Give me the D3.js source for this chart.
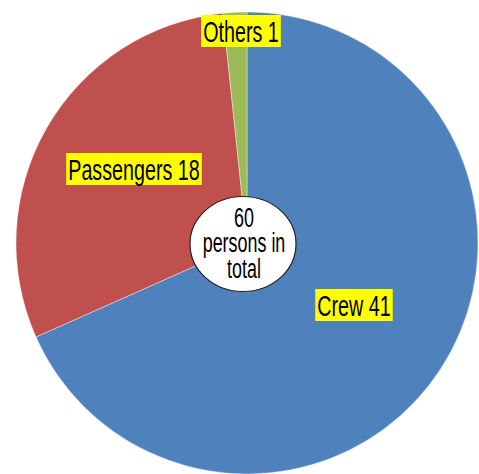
<!DOCTYPE html>
<html><head><meta charset="utf-8">
<script src="https://cdn.jsdelivr.net/npm/d3@7"></script>
<style>html,body{margin:0;padding:0;background:#fff;}svg{display:block;}</style>
</head><body>
<svg id="c" width="479" height="474"></svg>
<script>
const categories = ["Crew", "Passengers", "Others"];
const values = [41, 18, 1];
const colors = ["#4F81BD", "#C0504D", "#9BBB59"];
const centerLines = ["60", "persons in", "total"];

const svg = d3.select("#c");
const cx = 247, cy = 243, r = 231;
const g = svg.append("g").attr("transform", `translate(${cx},${cy})`);
const pie = d3.pie().sort(null).value(d => d.v);
const arcs = pie(categories.map((c, i) => ({c, v: values[i], col: colors[i]})));
const arc = d3.arc().innerRadius(0).outerRadius(r);
g.selectAll("path").data(arcs).join("path")
  .attr("d", arc).attr("fill", d => d.data.col)
  .attr("stroke", "rgba(255,255,255,0.4)").attr("stroke-width", 1);

// labels
const labelPos = {Crew: [354, 316], Passengers: [134, 180], Others: [241, 42]};
const sx = 0.68, fs = 29;
arcs.forEach(d => {
  const [x, y] = labelPos[d.data.c];
  const lg = svg.append("g").attr("transform", `translate(${x},${y}) scale(${sx},1)`);
  const t = lg.append("text").attr("text-anchor", "middle")
    .attr("font-family", "'Liberation Sans', Arial, sans-serif").attr("font-size", fs)
    .attr("fill", "#000").text(`${d.data.c} ${d.data.v}`);
  const bb = t.node().getBBox();
  lg.insert("rect", "text").attr("x", bb.x - 3).attr("y", -27).attr("width", bb.width + 6)
    .attr("height", 32).attr("fill", "#FFFF00");
});

// center ellipse
svg.append("ellipse").attr("cx", 243).attr("cy", 244).attr("rx", 53).attr("ry", 47.5)
  .attr("fill", "#fff").attr("stroke", "#222").attr("stroke-width", 1.2);
const ct = svg.append("g").attr("transform", `translate(244,227) scale(0.64,1)`)
  .append("text").attr("text-anchor", "middle")
  .attr("font-family", "'Liberation Sans', Arial, sans-serif").attr("font-size", 28)
  .attr("fill", "#000");
centerLines.forEach((l, i) => {
  ct.append("tspan").attr("x", 0).attr("dy", i === 0 ? 0 : 25.5).text(l);
});
</script>
</body></html>
